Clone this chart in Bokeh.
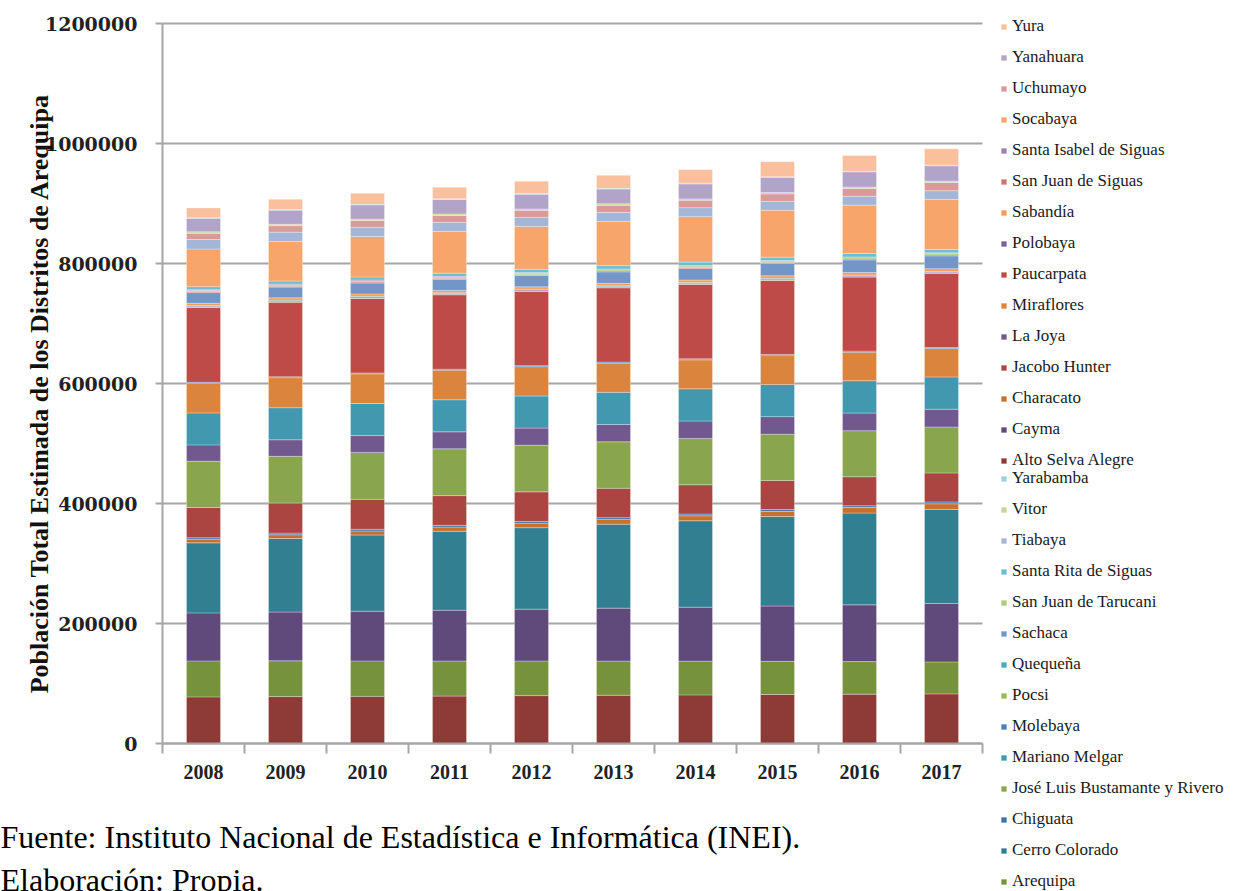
import math
from bokeh.plotting import figure
from bokeh.models import ColumnDataSource, Range1d, Legend, LegendItem, Label
from bokeh.core.properties import value
from bokeh.embed import file_html
from bokeh.resources import INLINE

years = ["2008", "2009", "2010", "2011", "2012", "2013", "2014", "2015", "2016", "2017"]

alto_selva_alegre = [77700, 78200, 78600, 79000, 79800, 80400, 81000, 81700, 82200, 82700]
arequipa = [60000, 59600, 59100, 58500, 57800, 57000, 56200, 55200, 54300, 53300]
cayma = [80000, 81300, 82800, 84600, 86300, 88200, 90000, 92300, 94600, 97300]
cerro_colorado = [116700, 122500, 127000, 131500, 135800, 140000, 144000, 149000, 153000, 156800]
characato = [5800, 6300, 6700, 7100, 7500, 7900, 8300, 8700, 9100, 9500]
chiguata = [2700, 2750, 2800, 2850, 2880, 2910, 2930, 2950, 2970, 3000]
jacobo_hunter = [50500, 50200, 49900, 49600, 49300, 49000, 48800, 48600, 48400, 48300]
jose_luis_bustamante = [77000, 77800, 78300, 78000, 77700, 77400, 77200, 77000, 76800, 76700]
la_joya = [27300, 27600, 28000, 28300, 28600, 28900, 29100, 29300, 29400, 29500]
mariano_melgar = [53300, 53400, 53400, 53500, 53500, 53600, 53600, 53700, 53800, 53900]
miraflores = [49500, 50000, 49500, 49200, 48900, 48600, 48300, 48000, 47600, 47200]
mollebaya = [1500, 1550, 1600, 1650, 1700, 1750, 1800, 1850, 1880, 1900]
paucarpata = [124500, 124300, 124200, 124000, 123900, 123800, 123700, 123600, 123400, 123300]
pocsi = [600, 590, 580, 570, 560, 555, 550, 547, 540, 535]
polobaya = [1500, 1490, 1485, 1480, 1478, 1477, 1475, 1477, 1475, 1470]
quequena = [1250, 1270, 1290, 1310, 1330, 1350, 1365, 1376, 1390, 1400]
sabandia = [3900, 3950, 4000, 4030, 4060, 4090, 4110, 4136, 4160, 4500]
sachaca = [17700, 17900, 18200, 18500, 18800, 19100, 19400, 20600, 21000, 21400]
san_juan_de_siguas = [1500, 1510, 1515, 1520, 1525, 1530, 1533, 1535, 1540, 1545]
san_juan_de_tarucani = [2000, 2030, 2060, 2090, 2110, 2130, 2160, 2180, 2200, 2220]
santa_isabel_de_siguas = [1270, 1270, 1268, 1267, 1266, 1265, 1264, 1264, 1263, 1262]
santa_rita_de_siguas = [5200, 5250, 5300, 5350, 5400, 5450, 5520, 5590, 5650, 5700]
socabaya = [62800, 66000, 67500, 69500, 71500, 73500, 75800, 78100, 80600, 83300]
tiabaya = [15800, 15500, 15300, 15200, 15100, 15000, 14900, 14800, 14700, 14600]
uchumayo = [10200, 10700, 11100, 11500, 11800, 12100, 12300, 12500, 13100, 13700]
vitor = [2500, 2480, 2460, 2440, 2420, 2400, 2370, 2345, 2320, 2300]
yanahuara = [22500, 23500, 23800, 24100, 24400, 24700, 25000, 25200, 25400, 25500]
yarabamba = [1100, 1105, 1110, 1112, 1115, 1118, 1120, 1125, 1128, 1130]
yura = [16200, 17200, 18300, 19400, 20500, 21700, 22900, 24900, 26000, 27100]

# stacking order, bottom to top: (legend label, values, colour)
districts = [
    ("Alto Selva Alegre", alto_selva_alegre, "#8E3B38"),
    ("Arequipa", arequipa, "#76923C"),
    ("Cayma", cayma, "#5F4A7B"),
    ("Cerro Colorado", cerro_colorado, "#327F92"),
    ("Characato", characato, "#C8702E"),
    ("Chiguata", chiguata, "#4170AB"),
    ("Jacobo Hunter", jacobo_hunter, "#AA4542"),
    ("José Luis Bustamante y Rivero", jose_luis_bustamante, "#89A54E"),
    ("La Joya", la_joya, "#71588F"),
    ("Mariano Melgar", mariano_melgar, "#4198AF"),
    ("Miraflores", miraflores, "#DB843D"),
    ("Molebaya", mollebaya, "#4A7EBB"),
    ("Paucarpata", paucarpata, "#BE4B48"),
    ("Pocsi", pocsi, "#98B954"),
    ("Polobaya", polobaya, "#7D60A0"),
    ("Quequeña", quequena, "#46AAC5"),
    ("Sabandía", sabandia, "#F59D56"),
    ("Sachaca", sachaca, "#7396C8"),
    ("San Juan de Siguas", san_juan_de_siguas, "#CD7371"),
    ("San Juan de Tarucani", san_juan_de_tarucani, "#B0CA7C"),
    ("Santa Isabel de Siguas", santa_isabel_de_siguas, "#9983B5"),
    ("Santa Rita de Siguas", santa_rita_de_siguas, "#6FBDD1"),
    ("Socabaya", socabaya, "#F8A56B"),
    ("Tiabaya", tiabaya, "#A3B6D8"),
    ("Uchumayo", uchumayo, "#D99A98"),
    ("Vitor", vitor, "#C4D79C"),
    ("Yanahuara", yanahuara, "#B2A4C8"),
    ("Yarabamba", yarabamba, "#9DD0DE"),
    ("Yura", yura, "#FAC09E"),
]

legend_group_1 = ["Yura", "Yanahuara", "Uchumayo", "Socabaya", "Santa Isabel de Siguas",
                  "San Juan de Siguas", "Sabandía", "Polobaya", "Paucarpata", "Miraflores",
                  "La Joya", "Jacobo Hunter", "Characato", "Cayma", "Alto Selva Alegre"]
legend_group_2 = ["Yarabamba", "Vitor", "Tiabaya", "Santa Rita de Siguas", "San Juan de Tarucani",
                  "Sachaca", "Quequeña", "Pocsi", "Molebaya", "Mariano Melgar",
                  "José Luis Bustamante y Rivero", "Chiguata", "Cerro Colorado", "Arequipa"]

y_ticks = [0, 200000, 400000, 600000, 800000, 1000000, 1200000]
y_tick_labels = [str(t) for t in y_ticks]
axis_title = "Población  Total Estimada  de los Distritos  de Arequipa"
source_note = "Fuente: Instituto Nacional de Estadística e Informática (INEI)."
credit_note = "Elaboración: Propia."

# ---------------- page geometry (pixels) ----------------
W, H = 1240, 891
PLOT_LEFT, PLOT_RIGHT, PLOT_TOP, PLOT_BOTTOM = 162, 982, 23, 743
n = len(years)
px_per_cat = (PLOT_RIGHT - PLOT_LEFT) / n
px_per_unit = (PLOT_BOTTOM - PLOT_TOP) / (y_ticks[-1] - y_ticks[0])
x0 = 0.5 - PLOT_LEFT / px_per_cat
y0 = y_ticks[0] - (H - PLOT_BOTTOM) / px_per_unit

names = [d[0] for d in districts]
colors = [d[2] for d in districts]
xs = list(range(1, n + 1))
data = {"x": xs}
for nm, vals, _ in districts:
    data[nm] = vals
src = ColumnDataSource(data)

GRAY = "#A6A6A6"
SERIF = value("Liberation Serif")

p = figure(width=W, height=H,
           x_range=Range1d(x0, x0 + W / px_per_cat),
           y_range=Range1d(y0, y0 + H / px_per_unit),
           output_backend="svg", toolbar_location=None, min_border=0,
           x_axis_location=None, y_axis_location=None)
p.outline_line_color = None
p.grid.visible = False

x_lo, x_hi = 0.5, n + 0.5

# horizontal gridlines
p.segment(x0=x_lo, x1=x_hi, y0=y_ticks, y1=y_ticks, line_color=GRAY, line_width=2)

# bars
rs = p.vbar_stack(names, x="x", width=0.415, source=src, color=colors,
                  line_color="white", line_width=0.6, line_alpha=0.5)
rmap = dict(zip(names, rs))

# value axis: line, ticks, labels, title
p.segment(x0=x_lo, x1=x_lo, y0=y_ticks[0], y1=y_ticks[-1], line_color=GRAY, line_width=2)
p.ray(x=[x_lo] * len(y_ticks), y=y_ticks, length=7, length_units="screen",
      angle=math.pi, line_color=GRAY, line_width=2)
p.text(x=[x_lo] * len(y_ticks), y=y_ticks, text=y_tick_labels, x_offset=-25,
       text_align="right", text_baseline="middle", text_font=value("DejaVu Serif"),
       text_font_style="bold", text_font_size="19px", text_color="#222222")
p.text(x=[x_lo], y=[(y_ticks[0] + y_ticks[-1]) / 2], text=[axis_title], angle=math.pi / 2,
       x_offset=39 - PLOT_LEFT, text_align="center", text_baseline="middle",
       text_font=SERIF, text_font_style="bold", text_font_size="26px", text_color="#111111")

# category axis: line, boundary ticks, year labels
p.segment(x0=x_lo, x1=x_hi, y0=0, y1=0, line_color=GRAY, line_width=2)
p.ray(x=[i + 0.5 for i in range(n + 1)], y=[0] * (n + 1), length=10, length_units="screen",
      angle=-math.pi / 2, line_color=GRAY, line_width=2)
p.text(x=xs, y=[0] * n, text=years, y_offset=28, text_align="center",
       text_baseline="middle", text_font=SERIF, text_font_style="bold",
       text_font_size="20px", text_color="#222222")


def make_legend(group, loc):
    lg = Legend(items=[LegendItem(label=nm, renderers=[rmap[nm]]) for nm in group],
                location=loc, orientation="vertical")
    lg.glyph_width = 7
    lg.glyph_height = 7
    lg.label_height = 20
    lg.spacing = 11
    lg.label_standoff = 5
    lg.padding = 0
    lg.margin = 0
    lg.border_line_alpha = 0
    lg.background_fill_alpha = 0
    lg.label_text_font = "Liberation Serif"
    lg.label_text_font_size = "17px"
    lg.label_text_color = "#1A1A1A"
    return lg


p.add_layout(make_legend(legend_group_1, (1000, 421)))
p.add_layout(make_legend(legend_group_2, (1000, 0)))

p.add_layout(Label(x=0, y=H - 836, x_units="screen", y_units="screen", text=source_note,
                   text_font="Liberation Serif", text_font_size="32px",
                   text_baseline="middle", text_color="#000000"))
p.add_layout(Label(x=0, y=H - 879, x_units="screen", y_units="screen", text=credit_note,
                   text_font="Liberation Serif", text_font_size="32px",
                   text_baseline="middle", text_color="#000000"))

open("out.html", "w").write(file_html(p, INLINE))
